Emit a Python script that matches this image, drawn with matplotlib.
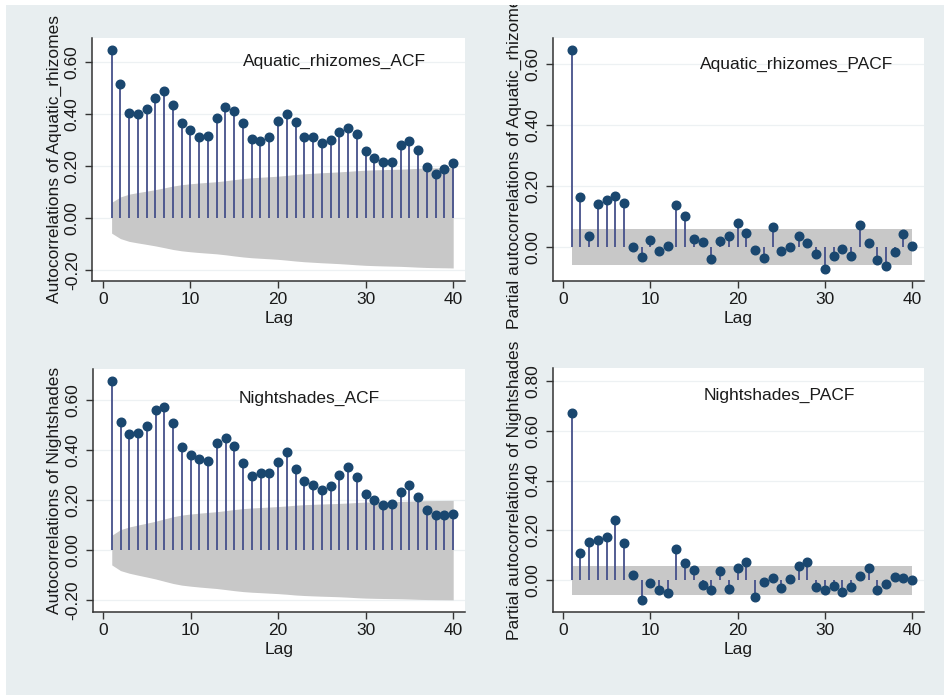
import numpy as np
import matplotlib.pyplot as plt
from matplotlib.patches import Rectangle

plt.rcParams['font.family'] = ['Liberation Sans', 'DejaVu Sans']

# Datos (lags 1..40)
lags = np.arange(1, 41)

aquatic_acf = [0.645, 0.513, 0.404, 0.397, 0.419, 0.462, 0.487, 0.433, 0.363, 0.336,
               0.310, 0.314, 0.385, 0.424, 0.409, 0.365, 0.304, 0.295, 0.312, 0.373,
               0.399, 0.368, 0.312, 0.312, 0.286, 0.299, 0.328, 0.346, 0.321, 0.258,
               0.228, 0.213, 0.213, 0.279, 0.296, 0.260, 0.196, 0.168, 0.188, 0.209]

aquatic_pacf = [0.647, 0.166, 0.038, 0.143, 0.155, 0.168, 0.145, 0.002, -0.031, 0.024,
                -0.011, 0.004, 0.140, 0.103, 0.027, 0.016, -0.038, 0.022, 0.038, 0.079,
                0.047, -0.009, -0.035, 0.068, -0.011, 0.002, 0.037, 0.015, -0.023, -0.072,
                -0.028, -0.004, -0.028, 0.074, 0.013, -0.042, -0.060, -0.014, 0.044, 0.003]

night_acf = [0.676, 0.511, 0.463, 0.468, 0.495, 0.559, 0.572, 0.508, 0.410, 0.378,
             0.362, 0.356, 0.428, 0.449, 0.415, 0.348, 0.295, 0.306, 0.306, 0.352,
             0.391, 0.324, 0.277, 0.259, 0.239, 0.255, 0.299, 0.332, 0.290, 0.223,
             0.199, 0.178, 0.184, 0.231, 0.259, 0.213, 0.160, 0.138, 0.138, 0.144]

night_pacf = [0.672, 0.108, 0.154, 0.160, 0.175, 0.241, 0.151, 0.021, -0.079, -0.012,
              -0.041, -0.052, 0.126, 0.071, 0.041, -0.020, -0.039, 0.036, -0.036, 0.049,
              0.072, -0.066, -0.008, 0.008, -0.029, 0.007, 0.057, 0.072, -0.028, -0.039,
              -0.023, -0.048, -0.028, 0.017, 0.051, -0.041, -0.016, 0.015, 0.011, 0.001]

n_obs = 1100  # tama침o de muestra aproximado (banda de 95%)

bg = '#e8eef0'
stem_col = '#45508a'
mark_col = '#1a476f'
band_col = '#c8c8c8'
grid_col = '#edf1f3'

fig = plt.figure(figsize=(9.44, 6.95), dpi=100)
fig.patch.set_facecolor(bg)
fig.patches.append(Rectangle((0, 0), 6 / 944, 1, transform=fig.transFigure,
                             facecolor='white', edgecolor='none', zorder=0))
fig.patches.append(Rectangle((0, 1 - 5 / 695), 1, 5 / 695, transform=fig.transFigure,
                             facecolor='white', edgecolor='none', zorder=0))


def bartlett_band(r):
    r = np.asarray(r)
    s = np.concatenate([[0.0], np.cumsum(r[:-1] ** 2)])
    return 1.96 * np.sqrt((1 + 2 * s) / n_obs)


def panel(rect, vals, kind, ylim, yticks, ylabel, title, tpos):
    ax = fig.add_axes(rect)
    ax.set_facecolor('white')
    if kind == 'acf':
        b = bartlett_band(vals)
    else:
        b = np.full(len(lags), 1.96 / np.sqrt(n_obs))
    for yt in yticks:
        ax.axhline(yt, color=grid_col, lw=0.9, zorder=0)
    ax.fill_between(lags, -b, b, color=band_col, lw=0, zorder=1)
    ax.vlines(lags, 0, vals, color=stem_col, lw=1.3, zorder=2)
    ax.plot(lags, vals, 'o', ms=6.2, color=mark_col, zorder=3)
    ax.set_xlim(-1.2, 41.35)
    ax.set_ylim(*ylim)
    ax.set_xticks([0, 10, 20, 30, 40])
    ax.set_yticks(yticks)
    ax.set_yticklabels([f'{v:.2f}' for v in yticks], rotation=90, va='center')
    for s in ['top', 'right']:
        ax.spines[s].set_visible(False)
    for s in ['left', 'bottom']:
        ax.spines[s].set_color('#333333')
        ax.spines[s].set_linewidth(1.1)
    ax.tick_params(axis='both', labelsize=12.5, length=5, width=1, color='#333333',
                   labelcolor='#1a1a1a')
    ax.tick_params(axis='y', pad=4)
    ax.tick_params(axis='x', pad=3)
    ax.set_xlabel('Lag', fontsize=12.5, labelpad=3, color='#1a1a1a')
    ax.set_ylabel(ylabel, fontsize=12.5, labelpad=2, color='#1a1a1a')
    ax.text(tpos[0], tpos[1], title, fontsize=12.5, ha='center', va='center',
            color='#1a1a1a', zorder=4)
    return ax


panel([0.0978, 0.5961, 0.3948, 0.3492], aquatic_acf, 'acf', (-0.242, 0.691),
      [-0.2, 0.0, 0.2, 0.4, 0.6], 'Autocorrelations of Aquatic_rhizomes',
      'Aquatic_rhizomes_ACF', (26.4, 0.6))
panel([0.5853, 0.5961, 0.3935, 0.3492], aquatic_pacf, 'pacf', (-0.1095, 0.686),
      [0.0, 0.2, 0.4, 0.6], 'Partial autocorrelations of Aquatic_rhizomes',
      'Aquatic_rhizomes_PACF', (26.75, 0.6))
panel([0.0980, 0.1201, 0.3946, 0.3496], night_acf, 'acf', (-0.245, 0.724),
      [-0.2, 0.0, 0.2, 0.4, 0.6], 'Autocorrelations of Nightshades',
      'Nightshades_ACF', (23.5, 0.605))
panel([0.5853, 0.1199, 0.3935, 0.3499], night_pacf, 'pacf', (-0.126, 0.850),
      [0.0, 0.2, 0.4, 0.6, 0.8], 'Partial autocorrelations of Nightshades',
      'Nightshades_PACF', (24.8, 0.743))

fig.savefig('out.png', dpi=100, facecolor=fig.get_facecolor())
